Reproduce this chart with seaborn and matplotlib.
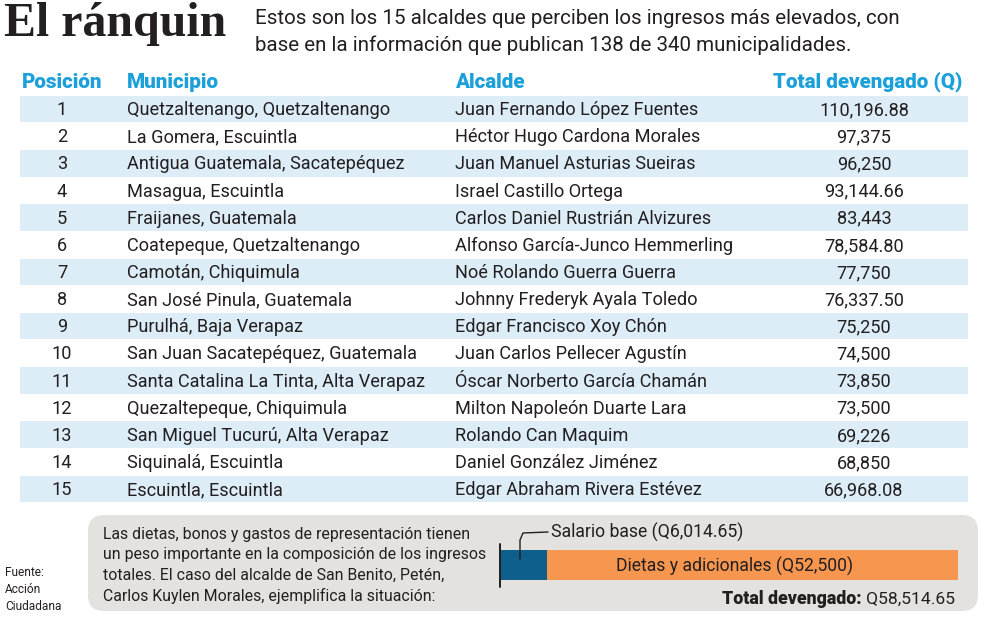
import matplotlib
matplotlib.use("Agg")
import matplotlib.pyplot as plt
from matplotlib.patches import FancyBboxPatch, Rectangle
from matplotlib.lines import Line2D
import seaborn as sns
import pandas as pd

sns.set_theme(style="white")
plt.rcParams['font.family'] = ['Roboto', 'DejaVu Sans']

# ---------------- data ----------------
posiciones = list(range(1, 16))
municipios = [
    "Quetzaltenango, Quetzaltenango", "La Gomera, Escuintla",
    "Antigua Guatemala, Sacatepéquez", "Masagua, Escuintla",
    "Fraijanes, Guatemala", "Coatepeque, Quetzaltenango",
    "Camotán, Chiquimula", "San José Pinula, Guatemala",
    "Purulhá, Baja Verapaz", "San Juan Sacatepéquez, Guatemala",
    "Santa Catalina La Tinta, Alta Verapaz", "Quezaltepeque, Chiquimula",
    "San Miguel Tucurú, Alta Verapaz", "Siquinalá, Escuintla",
    "Escuintla, Escuintla",
]
alcaldes = [
    "Juan Fernando López Fuentes", "Héctor Hugo Cardona Morales",
    "Juan Manuel Asturias Sueiras", "Israel Castillo Ortega",
    "Carlos Daniel Rustrián Alvizures", "Alfonso García-Junco Hemmerling",
    "Noé Rolando Guerra Guerra", "Johnny Frederyk Ayala Toledo",
    "Edgar Francisco Xoy Chón", "Juan Carlos Pellecer Agustín",
    "Óscar Norberto García Chamán", "Milton Napoleón Duarte Lara",
    "Rolando Can Maquim", "Daniel González Jiménez",
    "Edgar Abraham Rivera Estévez",
]
totales = [
    "110,196.88", "97,375", "96,250", "93,144.66", "83,443", "78,584.80",
    "77,750", "76,337.50", "75,250", "74,500", "73,850", "73,500",
    "69,226", "68,850", "66,968.08",
]
encabezados = ["Posición", "Municipio", "Alcalde", "Total devengado (Q)"]

componentes = ["Salario base", "Dietas y adicionales"]
montos = [6014.65, 52500.0]
total_ejemplo = 58514.65

# ---------------- style ----------------
C_TEXT = "#231f20"
C_HEAD = "#1ba0da"
C_STRIPE = "#dcedf8"
C_BOX = "#e3e2de"
C_BLUE = "#0e5f8b"
C_ORANGE = "#f7964f"

W, H = 993, 618
fig = plt.figure(figsize=(W / 100, H / 100), dpi=100)
ax = fig.add_axes([0, 0, 1, 1])
ax.set_xlim(0, W)
ax.set_ylim(H, 0)
ax.axis("off")

# Title
ax.text(4, 24, "El ránquin", family=["Liberation Serif", "DejaVu Serif"],
        fontweight="bold", fontsize=34.5, color=C_TEXT, va="center", ha="left")
ax.text(255, 18, "Estos son los 15 alcaldes que perciben los ingresos más elevados, con",
        fontsize=14.8, color=C_TEXT, va="center", ha="left")
ax.text(255, 45, "base en la información que publican 138 de 340 municipalidades.",
        fontsize=14.8, color=C_TEXT, va="center", ha="left")

# Headers
head_y = 82
hkw = dict(fontsize=14.9, fontweight="black", color=C_HEAD, va="center")
ax.text(22, head_y, encabezados[0], ha="left", **hkw)
ax.text(127, head_y, encabezados[1], ha="left", **hkw)
ax.text(455, head_y, encabezados[2], ha="left", **hkw)
ax.text(962, head_y, encabezados[3], ha="right", **hkw)

# Rows
y0, pitch = 109, 27.14
rkw = dict(fontsize=13.1, color=C_TEXT, va="center")
for i in range(len(posiciones)):
    yc = y0 + i * pitch
    if i % 2 == 0:
        ax.add_patch(Rectangle((20, yc - 13.3), 948, 26.6, color=C_STRIPE, lw=0))
    ty = yc + 1.2
    ax.text(62, ty, str(posiciones[i]), ha="center", **rkw)
    ax.text(127, ty, municipios[i], ha="left", **rkw)
    ax.text(455, ty, alcaldes[i], ha="left", **rkw)
    ax.text(864, ty, totales[i], ha="center", **rkw)

# Bottom box
ax.add_patch(FancyBboxPatch((88, 515), 890, 96,
                            boxstyle="round,pad=0,rounding_size=16",
                            fc=C_BOX, ec="none"))
box_lines = [
    "Las dietas, bonos y gastos de representación tienen",
    "un peso importante en la composición de los ingresos",
    "totales. El caso del alcalde de San Benito, Petén,",
    "Carlos Kuylen Morales, ejemplifica la situación:",
]
for j, line in enumerate(box_lines):
    ax.text(103, 534 + j * 20.5, line, fontsize=11.4, color=C_TEXT,
            va="center", ha="left")

for j, line in enumerate(["Fuente:", "Acción", "Ciudadana"]):
    ax.text(5, 573 + j * 16.5, line, fontsize=8.6, color=C_TEXT,
            va="center", ha="left")

# Stacked bar (seaborn)
bx0, bx1 = 500, 958
by0, by1 = 550, 580
bax = fig.add_axes([bx0 / W, 1 - by1 / H, (bx1 - bx0) / W, (by1 - by0) / H])
df_total = pd.DataFrame({"y": ["a"], "v": [sum(montos)]})
df_base = pd.DataFrame({"y": ["a"], "v": [montos[0]]})
sns.barplot(data=df_total, x="v", y="y", orient="h", color=C_ORANGE,
            saturation=1, width=1.0, ax=bax, edgecolor="none", linewidth=0)
sns.barplot(data=df_base, x="v", y="y", orient="h", color=C_BLUE,
            saturation=1, width=1.0, ax=bax, edgecolor="none", linewidth=0)
bax.set_xlim(0, sum(montos))
bax.set_ylim(0.5, -0.5)
bax.axis("off")

# overlay artists on top of the bar axes, in pixel coords of main axes
T = ax.transData
bax.add_line(Line2D([500, 500], [544, 587], color=C_TEXT, lw=1.4,
                    transform=T, clip_on=False))
bax.add_line(Line2D([520, 520, 523, 548], [559, 540, 533, 532], color=C_TEXT,
                    lw=1.0, transform=T, clip_on=False))
bax.text(735, 566, f"Dietas y adicionales (Q{montos[1]:,.0f})", fontsize=12.7,
         color=C_TEXT, va="center", ha="center", transform=T, clip_on=False)

ax.text(551, 532, f"Salario base (Q{montos[0]:,.2f})", fontsize=12.7,
        color=C_TEXT, va="center", ha="left")
amt = ax.text(955, 599, f"Q{total_ejemplo:,.2f}", fontsize=12.6, color=C_TEXT,
              va="center", ha="right")
fig.canvas.draw()
r = fig.canvas.get_renderer()
bb = amt.get_window_extent(renderer=r)
x_left = ax.transData.inverted().transform((bb.x0, 0))[0]
ax.text(x_left - 4, 599, "Total devengado:", fontsize=12.8, fontweight="black",
        color=C_TEXT, va="center", ha="right")

fig.savefig("out.png", dpi=100)
